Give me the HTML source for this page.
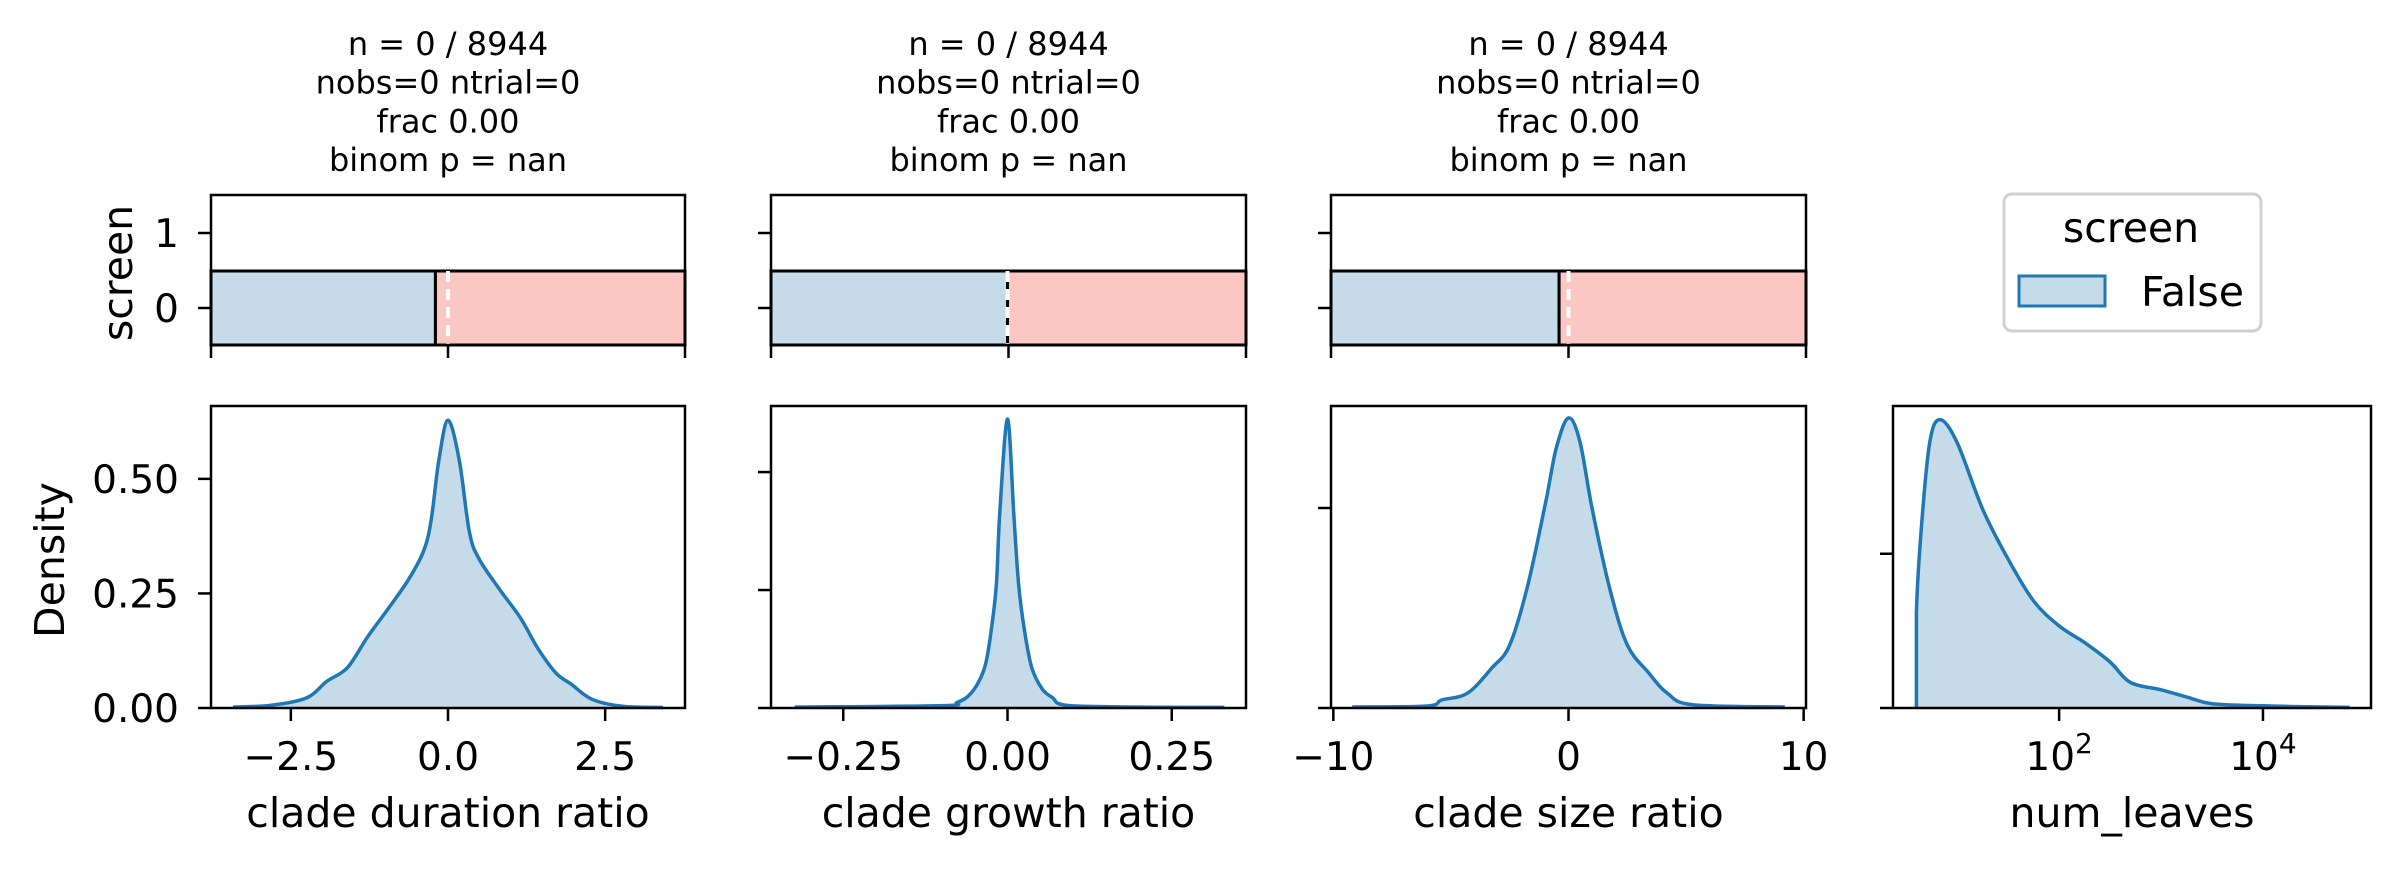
<!DOCTYPE html>
<html><head><meta charset="utf-8"><style>
html,body{margin:0;padding:0;background:#fff}
svg{display:block;font-family:"DejaVu Sans","Liberation Sans",sans-serif}
</style></head><body>
<svg id="fig" width="2396" height="869" viewBox="0 0 2396 869" xmlns="http://www.w3.org/2000/svg"></svg>
<script>
// ---- data ----
const panelLabels = ["clade duration ratio", "clade growth ratio", "clade size ratio", "num_leaves"];
const p1x = [-3.42,-2.82,-2.25,-1.93,-1.6,-1.28,-0.96,-0.63,-0.39,-0.27,-0.146,0,0.18,0.34,0.5,0.83,1.15,1.43,1.72,1.96,2.29,2.77,3.42];
const p1y = [0.002,0.006,0.022,0.058,0.088,0.155,0.215,0.28,0.342,0.408,0.54,0.628,0.54,0.384,0.324,0.257,0.197,0.13,0.076,0.052,0.019,0.004,0.001];
const p2x = [-0.324,-0.098,-0.077,-0.06,-0.044,-0.033,-0.025,-0.017,-0.012,0,0.0097,0.017,0.026,0.037,0.053,0.069,0.085,0.16,0.33];
const p2y = [0.08,0.2,0.47,1.0,2.2,3.8,6.5,10.4,16.3,24.5,16.3,10.4,6.5,3.4,1.6,0.86,0.27,0.1,0.05];
const p3x = [-9.2,-6.0,-5.4,-4.3,-3.26,-2.5,-1.74,-0.97,-0.52,0,0.49,1.0,1.77,2.5,3.4,4.2,5.3,9.2];
const p3y = [0.0005,0.001,0.004,0.0074,0.02,0.0315,0.061,0.103,0.13,0.145,0.133,0.10,0.059,0.0315,0.0177,0.0074,0.0016,0.0005];
const p4logx = [0.60,0.60,0.65,0.73,0.83,1.0,1.25,1.5,1.75,2.0,2.25,2.5,2.7,3.0,3.25,3.5,4.0,4.85];
const p4y = [0,0.311,0.59,0.86,0.935,0.86,0.644,0.482,0.347,0.266,0.212,0.149,0.083,0.059,0.036,0.014,0.007,0.002];
const xTickVals = [[-2.5,0,2.5],[-0.25,0,0.25],[-10,0,10],[2,4]];
const xTickLabels = [["\u22122.5","0.0","2.5"],["\u22120.25","0.00","0.25"],["\u221210","0","10"],["10","10"]];
const xTickSup = [null,null,null,["2","4"]];
const yTickVals = [[0,0.25,0.5],[0,10,20],[0,0.1],[0,0.5]];
const yTickLabels = ["0.00","0.25","0.50"];
const splitVals = [-0.2, 0, -0.4];
const titleLines = ["n = 0 / 8944","nobs=0 ntrial=0","frac 0.00","binom p = nan"];
// ---- layout ----
const L = [211,771,1331,1893], R = [685,1246,1806,2371];
const xlims = [[-3.77,3.77],[-0.36,0.363],[-10.1,10.1],[0.37,5.06]];
const ylims = [[0,0.659],[0,25.6],[0,0.151],[0,0.979]];
const bTop=406, bBot=708, tTop=195, tBot=345;
const svg=document.getElementById('fig');
const NS="http://www.w3.org/2000/svg";
function mk(tag,attrs,parent){const e=document.createElementNS(NS,tag);for(const k in attrs)e.setAttribute(k,attrs[k]);(parent||svg).appendChild(e);return e;}
function txt(s,attrs,parent){const e=mk('text',attrs,parent);e.textContent=s;return e;}
function smooth(P){
  let d='M'+P[0][0].toFixed(1)+','+P[0][1].toFixed(1);
  for(let k=0;k<P.length-1;k++){
    const p0=P[k-1]||P[k], p1=P[k], p2=P[k+1], p3=P[k+2]||P[k+1];
    if(Math.abs(p1[0]-p2[0])<0.5){d+='L'+p2[0].toFixed(1)+','+p2[1].toFixed(1);continue;}
    const c1=[p1[0]+(p2[0]-p0[0])/6,p1[1]+(p2[1]-p0[1])/6];
    const c2=[p2[0]-(p3[0]-p1[0])/6,p2[1]-(p3[1]-p1[1])/6];
    d+='C'+c1[0].toFixed(1)+','+c1[1].toFixed(1)+' '+c2[0].toFixed(1)+','+c2[1].toFixed(1)+' '+p2[0].toFixed(1)+','+p2[1].toFixed(1);
  }
  return d;
}
const xs=[p1x,p2x,p3x,p4logx], ys=[p1y,p2y,p3y,p4y];
for(let i=0;i<4;i++){
  const sx=v=>L[i]+(v-xlims[i][0])/(xlims[i][1]-xlims[i][0])*(R[i]-L[i]);
  const sy=v=>bBot-(v-ylims[i][0])/(ylims[i][1]-ylims[i][0])*(bBot-bTop);
  const g=mk('g',{});
  
  
  const pts=xs[i].map((v,k)=>[sx(v),Math.min(bBot,sy(ys[i][k]))]);
  const d=smooth(pts);
  const first=pts[0][0], last=pts[pts.length-1][0];
  const area=mk('path',{d:d+'L'+last+','+bBot+'L'+first+','+bBot+'Z',fill:'#c6dbea',stroke:'none'},g);
  
  
  const line=mk('path',{d:d,fill:'none',stroke:'#1f77b4','stroke-width':3.5,'stroke-linejoin':'round'},g);
  
  
  mk('rect',{x:L[i],y:bTop,width:R[i]-L[i],height:bBot-bTop,fill:'none',stroke:'#000','stroke-width':2.5},g);
  xTickVals[i].forEach((v,k)=>{
    const x=sx(v);
    mk('line',{x1:x,x2:x,y1:bBot,y2:bBot+13,stroke:'#000','stroke-width':2.5},g);
    const t=txt(xTickLabels[i][k],{x:x,y:770,'font-size':39,'text-anchor':'middle'},g);
    if(xTickSup[i]){const s=mk('tspan',{dy:-17,'font-size':28},t);s.textContent=xTickSup[i][k];}
    
    
  });
  const xl=txt(panelLabels[i],{x:(L[i]+R[i])/2,y:827,'font-size':41,'text-anchor':'middle'},g);
  
  
  yTickVals[i].forEach((v,k)=>{
    const y=sy(v);
    mk('line',{x1:L[i]-13,x2:L[i],y1:y,y2:y,stroke:'#000','stroke-width':2.5},g);
    if(i===0){const t=txt(yTickLabels[k],{x:179,y:y+14,'font-size':39,'text-anchor':'end'},g);
      
      }
  });
  if(i<3){
    const tg=mk('g',{});
    
    
    const mid=271, split=sx(splitVals[i]), zero=sx(0);
    mk('rect',{x:L[i],y:mid,width:split-L[i],height:tBot-mid,fill:'#c6dbea',stroke:'#000','stroke-width':3},tg);
    mk('rect',{x:split,y:mid,width:R[i]-split,height:tBot-mid,fill:'#fbc7c3',stroke:'#000','stroke-width':3},tg);
    mk('line',{x1:zero,x2:zero,y1:mid,y2:tBot,stroke:'#fff','stroke-width':4,'stroke-dasharray':'11,7'},tg);
    mk('rect',{x:L[i],y:tTop,width:R[i]-L[i],height:tBot-tTop,fill:'none',stroke:'#000','stroke-width':2.5},tg);
    [233,308].forEach(y=>mk('line',{x1:L[i]-13,x2:L[i],y1:y,y2:y,stroke:'#000','stroke-width':2.5},tg));
    [L[i],(L[i]+R[i])/2,R[i]].forEach(x=>mk('line',{x1:x,x2:x,y1:tBot,y2:tBot+13,stroke:'#000','stroke-width':2.5},tg));
    titleLines.forEach((s,k)=>{const t=txt(s,{x:(L[i]+R[i])/2,y:55+38.7*k,'font-size':32,'text-anchor':'middle'},tg);
      
      });
  }
}
</script>
<svg style="position:absolute;left:0;top:0" width="2396" height="869">
  <text x="0" y="0" font-size="41" text-anchor="middle" transform="translate(64,560) rotate(-90)" font-family="DejaVu Sans, sans-serif">Density</text>
  <text x="0" y="0" font-size="41" text-anchor="middle" transform="translate(132,273) rotate(-90)" font-family="DejaVu Sans, sans-serif">screen</text>
  <text x="179" y="247" font-size="39" text-anchor="end" font-family="DejaVu Sans, sans-serif">1</text>
  <text x="179" y="322" font-size="39" text-anchor="end" font-family="DejaVu Sans, sans-serif">0</text>
  <g>
    <rect x="2004" y="194" width="257" height="137" rx="8" fill="#fff" stroke="#d0d0d0" stroke-width="3"/>
    <text x="2131" y="242" font-size="41" text-anchor="middle" font-family="DejaVu Sans, sans-serif">screen</text>
    <rect x="2019" y="276" width="86" height="30" fill="#c6dbea" stroke="#1f77b4" stroke-width="3"/>
    <text x="2141" y="306" font-size="41" font-family="DejaVu Sans, sans-serif">False</text>
  </g>
</svg>
</body></html>
